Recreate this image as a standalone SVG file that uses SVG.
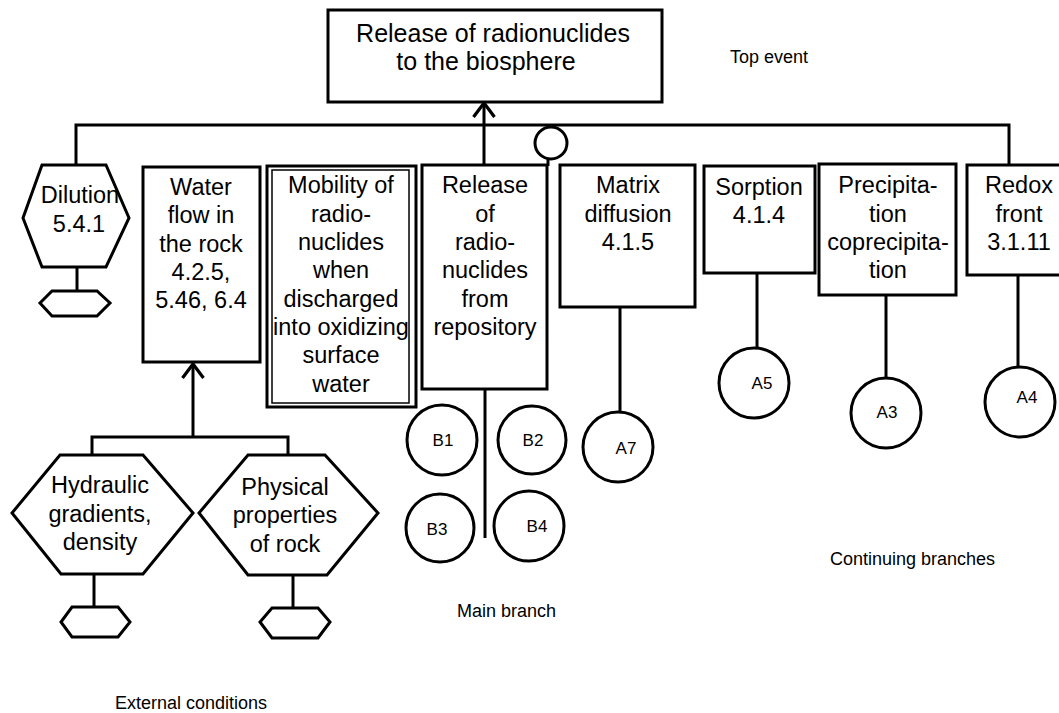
<svg xmlns="http://www.w3.org/2000/svg" width="1059" height="713" viewBox="0 0 1059 713">
  <style>
    .box { fill: #fff; stroke: #000; stroke-width: 3; }
    .thin { fill: none; stroke: #000; stroke-width: 1.5; }
    .ln { fill: none; stroke: #000; stroke-width: 3; }
    .t { font-family: "Liberation Sans", Arial, Helvetica, sans-serif; font-size: 23.5px; fill: #000; text-anchor: middle; }
    .tt { font-family: "Liberation Sans", Arial, Helvetica, sans-serif; font-size: 25px; fill: #000; text-anchor: middle; }
    .c { font-family: "Liberation Sans", Arial, Helvetica, sans-serif; font-size: 17px; fill: #000; text-anchor: middle; }
    .lbl { font-family: "Liberation Sans", Arial, Helvetica, sans-serif; font-size: 18px; fill: #000; }
  </style>
  <defs>
    <!-- open "V" arrowhead, tip at the end of the line -->
    <marker id="arrow" markerWidth="20" markerHeight="24" refX="16" refY="12" orient="auto" markerUnits="userSpaceOnUse" viewBox="0 0 20 24">
      <path d="M2,1.5 L16,12 L2,22.5" fill="none" stroke="#000" stroke-width="3.2"/>
    </marker>
  </defs>

  <rect width="1059" height="713" fill="#fff"/>

  <!-- connectors -->
  <g id="connectors">
    <!-- main bus under the top event -->
    <path class="ln" d="M76,166 V125 H1009 V166"/>
    <!-- release of radionuclides feeds the top event -->
    <path class="ln" d="M484,165 V103" marker-end="url(#arrow)"/>
    <!-- gate symbol link -->
    <path class="ln" d="M548,159 V166"/>
    <!-- dilution to its undeveloped event -->
    <path class="ln" d="M77,267 V291"/>
    <!-- external conditions feed water flow -->
    <path class="ln" d="M193,437 V364" marker-end="url(#arrow)"/>
    <path class="ln" d="M92,456 V437 H288 V456"/>
    <path class="ln" d="M94,574 V607"/>
    <path class="ln" d="M293,575 V608"/>
    <!-- main branch -->
    <path class="ln" d="M485,389 V538"/>
    <!-- continuing branches -->
    <path class="ln" d="M620,307 V412"/>
    <path class="ln" d="M757,273 V349"/>
    <path class="ln" d="M886,295 V378"/>
    <path class="ln" d="M1018,275 V367"/>
  </g>

  <!-- top event -->
  <g id="top-event">
    <rect class="box" x="328" y="10" width="334" height="92"/>
    <text class="tt" x="493" y="42">Release of radionuclides</text>
    <text class="tt" x="486" y="70">to the biosphere</text>
  </g>
  <text id="label-top-event" class="lbl" x="730" y="63">Top event</text>

  <!-- gate -->
  <g id="gate">
    <circle class="box" cx="551" cy="143" r="16"/>
  </g>

  <!-- dilution -->
  <g id="dilution">
    <polygon class="box" points="42,165 106,165 129,218 106,267 42,267 23,218"/>
    <text class="t" x="80" y="203">Dilution</text>
    <text class="t" x="79" y="232">5.4.1</text>
  </g>
  <g id="dilution-ext">
    <polygon class="box" points="52,291 97,291 110,303 97,316 52,316 40,303"/>
  </g>

  <!-- water flow -->
  <g id="water-flow">
    <rect class="box" x="143" y="167" width="117" height="195"/>
    <text class="t" x="201" y="195">Water</text>
    <text class="t" x="201" y="223">flow in</text>
    <text class="t" x="201" y="252">the rock</text>
    <text class="t" x="201" y="280">4.2.5,</text>
    <text class="t" x="201" y="308">5.46, 6.4</text>
  </g>

  <!-- mobility (double border) -->
  <g id="mobility">
    <rect class="box" x="267" y="166" width="149" height="241"/>
    <rect class="thin" x="272" y="170" width="137" height="233"/>
    <text class="t" x="341" y="193">Mobility of</text>
    <text class="t" x="341" y="222">radio-</text>
    <text class="t" x="341" y="250">nuclides</text>
    <text class="t" x="341" y="278">when</text>
    <text class="t" x="341" y="307">discharged</text>
    <text class="t" x="341" y="335">into oxidizing</text>
    <text class="t" x="341" y="363">surface</text>
    <text class="t" x="341" y="392">water</text>
  </g>

  <!-- release from repository -->
  <g id="release-repository">
    <rect class="box" x="422" y="165" width="125" height="224"/>
    <text class="t" x="485" y="193">Release</text>
    <text class="t" x="485" y="222">of</text>
    <text class="t" x="485" y="250">radio-</text>
    <text class="t" x="485" y="278">nuclides</text>
    <text class="t" x="485" y="307">from</text>
    <text class="t" x="485" y="335">repository</text>
  </g>

  <!-- main branch circles -->
  <g id="b1"><circle class="box" cx="442" cy="440" r="35"/><text class="c" x="443" y="446">B1</text></g>
  <g id="b2"><circle class="box" cx="532" cy="440" r="34"/><text class="c" x="533" y="446">B2</text></g>
  <g id="b3"><circle class="box" cx="440" cy="528" r="34"/><text class="c" x="437" y="535">B3</text></g>
  <g id="b4"><circle class="box" cx="529" cy="526" r="35"/><text class="c" x="537" y="532">B4</text></g>
  <text id="label-main" class="lbl" x="457" y="617">Main branch</text>

  <!-- matrix diffusion -->
  <g id="matrix-diffusion">
    <rect class="box" x="560" y="165" width="135" height="142"/>
    <text class="t" x="628" y="193">Matrix</text>
    <text class="t" x="628" y="222">diffusion</text>
    <text class="t" x="628" y="250">4.1.5</text>
  </g>
  <g id="a7"><circle class="box" cx="618" cy="447" r="35"/><text class="c" x="626" y="454">A7</text></g>

  <!-- sorption -->
  <g id="sorption">
    <rect class="box" x="704" y="166" width="111" height="107"/>
    <text class="t" x="759" y="195">Sorption</text>
    <text class="t" x="759" y="223">4.1.4</text>
  </g>
  <g id="a5"><circle class="box" cx="754" cy="383" r="35"/><text class="c" x="762" y="389">A5</text></g>

  <!-- precipitation -->
  <g id="precipitation">
    <rect class="box" x="819" y="164" width="137" height="131"/>
    <text class="t" x="888" y="193">Precipita-</text>
    <text class="t" x="888" y="222">tion</text>
    <text class="t" x="888" y="250">coprecipita-</text>
    <text class="t" x="888" y="278">tion</text>
  </g>
  <g id="a3"><circle class="box" cx="886" cy="413" r="35"/><text class="c" x="887" y="418">A3</text></g>

  <!-- redox front -->
  <g id="redox-front">
    <rect class="box" x="967" y="165" width="100" height="110"/>
    <text class="t" x="1019" y="193">Redox</text>
    <text class="t" x="1019" y="222">front</text>
    <text class="t" x="1019" y="250">3.1.11</text>
  </g>
  <g id="a4"><circle class="box" cx="1020" cy="402" r="35"/><text class="c" x="1027" y="403">A4</text></g>
  <text id="label-continuing" class="lbl" x="830" y="565">Continuing branches</text>

  <!-- external conditions -->
  <g id="hydraulic">
    <polygon class="box" points="60,455 143,455 193,513 143,574 61,574 12,513"/>
    <text class="t" x="100" y="493">Hydraulic</text>
    <text class="t" x="100" y="522">gradients,</text>
    <text class="t" x="100" y="550">density</text>
  </g>
  <g id="hydraulic-ext">
    <polygon class="box" points="72,607 118,607 130,622 118,637 72,637 61,622"/>
  </g>
  <g id="physical">
    <polygon class="box" points="248,455 325,455 378,513 327,575 248,575 199,513"/>
    <text class="t" x="285" y="495">Physical</text>
    <text class="t" x="285" y="523">properties</text>
    <text class="t" x="285" y="552">of rock</text>
  </g>
  <g id="physical-ext">
    <polygon class="box" points="272,608 318,608 330,622 318,638 272,638 260,622"/>
  </g>
  <text id="label-external" class="lbl" x="115" y="709">External conditions</text>
</svg>
